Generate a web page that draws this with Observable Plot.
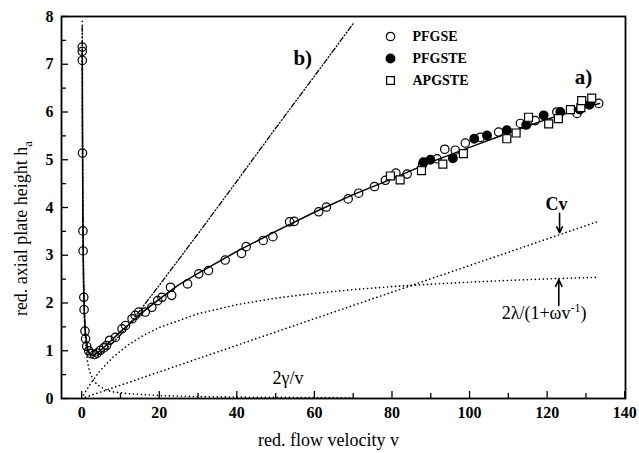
<!DOCTYPE html>
<html><head><meta charset="utf-8">
<script src="https://cdn.jsdelivr.net/npm/d3@7"></script>
<script src="https://cdn.jsdelivr.net/npm/@observablehq/plot@0.6"></script>
<style>body{margin:0;background:#fff}</style>
</head><body><div id="chart"></div>
<script>
const pfgseV = [0.14,0.15,0.16,0.22,0.33,0.37,0.55,0.62,0.85,1.0,1.3,1.8,2.4,3.3,4.0,4.8,5.7,6.4,7.2,8.7,10.4,11.3,13.0,13.8,14.7,16.4,18.1,19.6,20.7,22.9,23.2,27.3,30.2,32.7,37.0,41.2,42.4,46.8,49.3,53.6,54.8,61.1,63.1,68.7,71.4,75.5,78.3,81.0,83.9,87.9,91.6,93.6,96.3,98.9,102.8,107.5,113.1,116.9,122.5,127.7,133.3];
const pfgseH = [7.36,7.27,7.08,5.14,3.51,3.09,2.12,1.86,1.41,1.25,1.09,1.0,0.94,0.92,0.95,1.01,1.06,1.11,1.22,1.28,1.46,1.53,1.67,1.74,1.81,1.81,1.91,2.05,2.12,2.33,2.16,2.40,2.61,2.68,2.90,3.04,3.18,3.31,3.39,3.70,3.71,3.91,4.01,4.18,4.30,4.44,4.57,4.72,4.70,4.90,5.02,5.22,5.20,5.35,5.47,5.58,5.76,5.82,6.00,5.97,6.18];
const pfgsteV = [88.1,89.9,95.7,101.2,104.5,109.6,114.6,119.1,123.4,128.4,130.9];
const pfgsteH = [4.95,5.00,5.03,5.44,5.51,5.62,5.73,5.93,6.00,6.05,6.15];
const apgsteV = [79.6,82.1,87.6,93.1,98.4,109.6,112.0,115.2,120.4,122.9,126.0,128.7,128.9,131.5];
const apgsteH = [4.66,4.58,4.77,4.91,5.13,5.44,5.56,5.89,5.75,5.86,6.05,6.09,6.24,6.29];

// fitted total curve (a)
const fitV = [0.16,0.2,0.3,0.4,0.5,0.7,1,1.5,2,3,4,6,8,10,12,15,20,25,30,40,50,60,70,80,90,100,110,120,130,133.5];
const fitH = [7.3,5.85,3.95,3.0,2.4,1.75,1.33,1.06,0.94,0.9,0.95,1.09,1.24,1.4,1.54,1.76,2.08,2.38,2.62,3.08,3.5,3.9,4.27,4.6,4.95,5.26,5.56,5.85,6.1,6.18];
// curve (b)
const bV = [0.15,0.2,0.3,0.5,0.7,1,1.5,2,3,4,6,8,10,15,20,30,40,50,60,70];
const bH = [7.79,5.87,3.97,2.46,1.82,1.36,1.03,0.93,0.88,0.9,1.02,1.17,1.33,1.84,2.37,3.45,4.55,5.66,6.75,7.85];
// component 2γ/v
const gammaV = [0.145,0.2,0.3,0.5,0.75,1,1.5,2,3,4,6,8,12,20,30,45,70];
const gammaH = [7.9,5.75,3.83,2.3,1.53,1.15,0.77,0.58,0.38,0.29,0.19,0.14,0.1,0.06,0.04,0.026,0.016];
// component Cv
const cvV = [0, 133.2];
const cvH = [0, 3.71];
// component 2λ/(1+ωv^-1)
const lamV = [0.5,1,2,3,5,8,12,16,20,30,40,50,60,70,80,90,100,110,120,133];
const lamH = [0.074,0.145,0.276,0.395,0.604,0.859,1.123,1.324,1.487,1.776,1.966,2.101,2.202,2.281,2.343,2.394,2.437,2.473,2.504,2.538];

// ticks
const xMajor = [0,20,40,60,80,100,120,140];
const xMinor = [10,30,50,70,90,110,130];
const yMajor = [0,1,2,3,4,5,6,7,8];
const yMinor = [0.5,1.5,2.5,3.5,4.5,5.5,6.5,7.5];

// annotations
const annText = ["b)", "a)"];
const annV = [57.0, 129.4];
const annH = [7.12, 6.72];
const noteText = ["2γ/v", "2λ/(1+ωv-1)"];
const noteV = [53.2, 119.2];
const noteH = [0.43, 1.78];
const cvText = ["Cv"];
const cvLabV = [122.4];
const cvLabH = [4.07];
const arrowV = [123.2, 123.0];
const arrowFrom = [3.88, 1.95];
const arrowTo = [3.47, 2.49];

const legendNames = ["PFGSE", "PFGSTE", "APGSTE"];
const xLabel = "red. flow velocity v";
const yLabel = "red. axial plate height ha";

// ---- build ----
const rows = (vs, hs) => vs.map((v, i) => ({v, h: hs[i]}));
const font = "'Liberation Serif', 'Times New Roman', serif";
const W = 639, H = 453, mL = 61, mR = 14, mT = 16, mB = 55;
const iw = W - mL - mR, ih = H - mT - mB;
const dotted = {x: "v", y: "h", stroke: "black", strokeWidth: 1.6, strokeDasharray: "0.1,3.9", strokeLinecap: "round", clip: true};

const legendMarks = [];
const legendSym = [
  {symbol: "circle", r: 4.2, fill: "none", stroke: "black", strokeWidth: 1.2},
  {symbol: "circle", r: 4.2, fill: "black", stroke: "black"},
  {symbol: "square", r: 4.4, fill: "white", stroke: "black", strokeWidth: 1.2}
];
legendNames.forEach((name, i) => {
  legendMarks.push(Plot.dot([name], {frameAnchor: "top-left", dx: 329, dy: 20 + i * 22, ...legendSym[i]}));
  legendMarks.push(Plot.text([name], {frameAnchor: "top-left", dx: 351, dy: 20 + i * 22, text: d => d, textAnchor: "start", lineAnchor: "middle", fontSize: 14, fontWeight: "bold", fontFamily: font}));
});

const svg = Plot.plot({
  width: W, height: H,
  marginLeft: mL, marginRight: mR, marginTop: mT, marginBottom: mB,
  x: {domain: [-5.2, 140.2]},
  y: {domain: [0, 8]},
  style: {fontFamily: font, background: "white", color: "black"},
  marks: [
    Plot.line(rows(gammaV, gammaH), dotted),
    Plot.line(rows(cvV, cvH), dotted),
    Plot.line(rows(lamV, lamH), dotted),
    Plot.line(rows(bV, bH), {x: "v", y: "h", stroke: "black", strokeWidth: 1.3, strokeDasharray: "5,2.2,1,2.2,1,2.2", clip: true}),
    Plot.line(rows(fitV, fitH), {x: "v", y: "h", stroke: "black", strokeWidth: 1.5, clip: true}),
    Plot.dot(rows(pfgseV, pfgseH), {x: "v", y: "h", r: 4.2, fill: "none", stroke: "black", strokeWidth: 1.2}),
    Plot.dot(rows(pfgsteV, pfgsteH), {x: "v", y: "h", r: 4.2, fill: "black", stroke: "black"}),
    Plot.dot(rows(apgsteV, apgsteH), {x: "v", y: "h", symbol: "square", r: 4.5, fill: "white", stroke: "black", strokeWidth: 1.2}),
    // inward ticks
    Plot.tickX(xMajor, {x: d => d, insetTop: ih - 7, stroke: "black", strokeWidth: 1.3}),
    Plot.tickX(xMinor, {x: d => d, insetTop: ih - 5, stroke: "black", strokeWidth: 1.3}),
    Plot.tickY(yMajor, {y: d => d, insetRight: iw - 7, stroke: "black", strokeWidth: 1.3}),
    Plot.tickY(yMinor, {y: d => d, insetRight: iw - 5, stroke: "black", strokeWidth: 1.3}),
    Plot.axisX({ticks: xMajor, tickSize: 0, tickPadding: 8, fontSize: 16, fontWeight: "bold", fontFamily: font, label: null}),
    Plot.axisY({ticks: yMajor, tickSize: 0, tickPadding: 8, fontSize: 16, fontWeight: "bold", fontFamily: font, label: null}),
    Plot.frame({stroke: "black", strokeWidth: 1.8}),
    // annotations
    Plot.text(annText, {x: (d, i) => annV[i], y: (d, i) => annH[i], text: d => d, fontSize: 21, fontWeight: "bold", fontFamily: font}),
    Plot.text(noteText, {x: (d, i) => noteV[i], y: (d, i) => noteH[i], text: d => d, fontSize: 18, fontFamily: font}),
    Plot.text(cvText, {x: (d, i) => cvLabV[i], y: (d, i) => cvLabH[i], text: d => d, fontSize: 18, fontWeight: "bold", fontFamily: font}),
    Plot.arrow(arrowV, {x1: d => d, x2: d => d, y1: (d, i) => arrowFrom[i], y2: (d, i) => arrowTo[i], stroke: "black", strokeWidth: 1.6, headLength: 7, headAngle: 50}),
    ...legendMarks,
    // axis titles
    Plot.text([xLabel], {frameAnchor: "middle", dx: -15, dy: 42 + ih / 2, text: d => d, fontSize: 18, fontFamily: font}),
    Plot.text([yLabel], {frameAnchor: "middle", dx: 21 - mL - iw / 2, dy: 21, rotate: -90, text: d => d, fontSize: 18, fontFamily: font})
  ]
});
document.getElementById("chart").append(svg);

// typographic sub/superscripts
svg.querySelectorAll("text").forEach(t => {
  if (t.textContent === yLabel) {
    t.innerHTML = 'red. axial plate height h<tspan dy="5" font-size="13">a</tspan>';
    t.setAttribute("text-anchor", "middle");
  } else if (t.textContent === "2λ/(1+ωv-1)") {
    t.innerHTML = '2λ/(1+ωv<tspan dy="-7" font-size="12">-1</tspan><tspan dy="7">)</tspan>';
  }
});
</script>
</body></html>
